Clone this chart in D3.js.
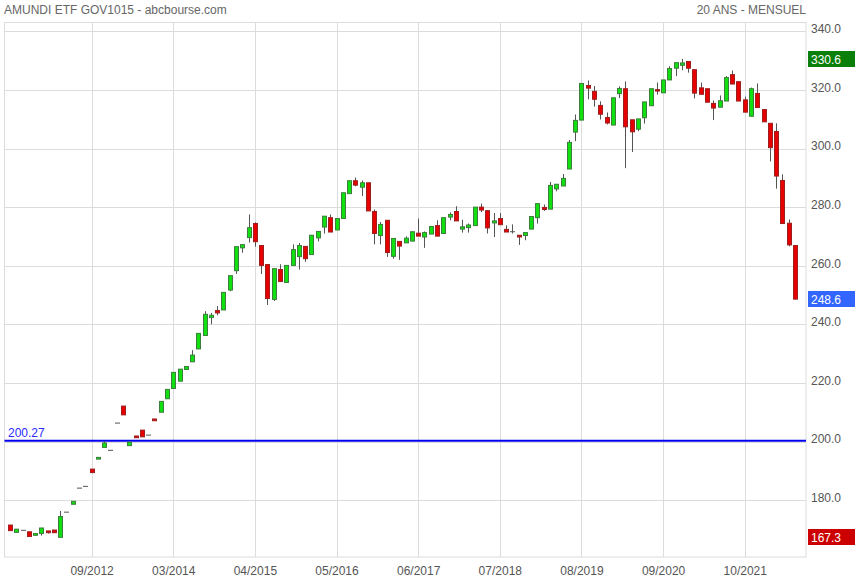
<!DOCTYPE html>
<html>
<head>
<meta charset="utf-8">
<script src="https://cdn.jsdelivr.net/npm/d3@7"></script>
<style>
html,body{margin:0;padding:0;background:#fff;}
svg{display:block;font-family:"Liberation Sans",Arial,sans-serif;}
</style>
</head>
<body>
<svg id="chart" width="855" height="580"></svg>
<script>
// ---- data (monthly candles, oldest first) ----
const opens = [171.5,169.0,169.7,169.2,168.0,168.6,169.5,169.8,167.3,175.9,
178.6,184.1,184.7,190.6,194.0,198.0,197.0,206.3,212.1,198.6,
201.9,203.9,202.2,207.7,210.0,214.6,218.1,220.6,224.6,227.2,
231.6,236.2,242.3,244.7,244.9,251.7,258.3,266.1,269.6,274.4,
266.9,260.4,248.5,258.7,254.3,260.1,263.1,266.6,263.8,269.5,
273.2,276.4,272.2,276.1,284.6,289.0,286.8,288.3,278.5,270.3,
275.5,263.2,268.3,267.8,268.4,271.1,269.8,270.8,273.7,271.0,
276.6,278.5,272.5,273.0,273.7,280.0,278.8,274.6,276.1,272.4,
271.6,270.4,270.3,272.5,276.4,279.9,279.3,286.2,287.2,293.0,
305.6,309.7,321.5,319.5,314.7,310.6,308.0,318.7,320.4,309.8,
306.6,310.5,314.6,320.1,319.0,323.4,327.4,328.4,329.7,326.9,
320.7,320.4,315.4,314.1,316.2,325.2,322.8,316.6,311.0,318.8,
313.3,308.6,305.8,289.1,274.5,266.9];
const highs = [171.5,170.1,169.7,169.2,168.6,170.5,169.5,169.8,176.3,175.9,
179.6,184.1,184.7,190.6,194.6,200.2,197.0,206.3,212.1,199.8,
201.9,203.9,202.2,207.7,213.7,217.8,223.6,224.7,225.6,231.2,
236.9,244.5,243.9,246.2,250.9,256.6,266.5,267.2,277.5,274.8,
266.9,260.4,259.0,260.5,260.1,267.3,267.8,266.6,270.4,271.7,
276.9,277.5,276.1,284.9,289.0,290.1,289.1,288.3,279.2,274.9,
275.5,269.3,268.3,270.0,271.6,276.1,271.7,273.4,275.5,276.4,
278.2,280.3,275.7,274.4,280.0,281.2,278.8,278.0,278.0,273.8,
274.1,270.4,271.3,276.8,281.2,280.9,288.6,287.8,291.3,302.9,
311.6,322.2,323.2,321.3,316.1,312.3,317.3,321.2,322.9,309.8,
310.1,315.9,320.4,322.5,323.4,328.1,329.3,330.6,329.7,326.9,
322.5,320.4,316.4,318.1,324.7,326.6,322.8,317.7,320.8,322.2,
313.3,308.6,308.6,291.2,275.8,266.9];
const lows = [169.6,169.0,169.7,167.6,168.0,167.9,168.6,168.9,167.3,175.9,
178.6,184.1,184.7,189.4,194.0,198.0,197.0,206.3,209.1,198.6,
201.3,201.6,202.2,207.1,210.0,214.6,218.1,220.6,224.6,227.2,
231.6,236.2,240.0,243.1,244.9,251.3,257.2,264.4,267.9,266.5,
257.2,246.6,248.0,254.6,254.3,260.1,258.7,261.3,263.8,268.3,
271.0,271.5,272.2,276.1,284.6,287.1,283.8,278.7,267.3,267.3,
263.0,262.4,262.0,267.8,268.4,270.1,266.1,270.8,270.1,271.0,
275.5,275.3,271.3,271.3,273.7,278.3,271.0,269.8,274.0,271.5,
271.0,267.1,268.7,272.5,274.4,278.7,279.3,285.4,287.2,293.0,
302.5,309.7,316.8,314.3,309.9,308.2,308.0,317.2,293.3,298.8,
305.9,308.5,314.6,318.4,319.0,323.4,324.7,326.7,325.9,317.1,
318.5,315.8,309.7,314.1,316.2,322.0,316.2,312.4,311.0,314.0,
309.1,295.6,286.3,274.4,266.6,248.6];
const closes = [169.6,170.1,169.7,167.6,168.6,170.5,168.9,168.9,174.4,175.9,
179.6,184.1,184.7,189.4,194.6,199.5,197.0,206.3,209.1,199.8,
201.3,201.6,202.2,207.1,213.7,217.8,223.6,224.7,225.6,229.5,
236.9,243.4,243.1,243.9,250.9,256.6,266.5,267.2,273.0,268.2,
260.1,248.8,259.0,254.6,260.1,265.5,266.9,262.4,270.4,271.7,
276.9,271.5,276.1,284.9,289.0,287.5,288.3,278.7,271.0,274.1,
264.5,269.3,266.7,269.4,271.6,270.1,271.3,273.4,270.1,276.4,
277.5,275.3,273.3,273.9,280.0,279.0,272.9,275.3,274.0,271.5,
271.6,269.8,271.3,276.8,281.2,279.2,287.4,287.8,289.8,302.1,
309.6,322.2,320.6,316.8,311.7,308.7,317.3,320.5,307.4,305.7,
310.1,315.9,320.4,319.6,323.4,327.3,329.3,329.2,327.4,318.9,
318.5,315.8,313.8,316.3,324.2,322.0,316.2,312.4,320.4,314.0,
309.1,300.3,290.6,274.4,267.1,248.6];

const xTickIndex  = [13,26,39,52,65,78,91,104,117];
const xTickLabels = ["09/2012","03/2014","04/2015","05/2016","06/2017","07/2018","08/2019","09/2020","10/2021"];
const yTicks = [180,200,220,240,260,280,300,320,340];
const refLevel = 200.27;
const title = "AMUNDI ETF GOV1015 - abcbourse.com";
const period = "20 ANS - MENSUEL";

// ---- drawing ----
const svg = d3.select("#chart");
const L = 4.5, R = 806, T = 22.5, B = 557;
const n = closes.length;
const x = d3.scaleBand().domain(d3.range(n)).range([6.82, 6.82 + 6.28 * n]).padding(0);
const cx = i => x(i) + x.bandwidth() / 2;
const y = d3.scaleLinear().domain([160.6, 343.0]).range([B, T]);

// frame
svg.append("rect").attr("x", L).attr("y", T).attr("width", R - L).attr("height", B - T)
  .attr("fill", "#fff").attr("stroke", "#dcdcdc").attr("stroke-width", 1);

// horizontal grid + y axis labels
const yAxis = d3.axisRight(y).tickValues(yTicks).tickFormat(d3.format(".1f")).tickSize(0).tickPadding(5);
const gy = svg.append("g").attr("transform", `translate(${R},-2.5)`).call(yAxis);
gy.select(".domain").remove();
gy.selectAll("text").attr("fill", "#555").style("font-size", "12px").style("font-family", "Liberation Sans, Arial, sans-serif");
svg.append("g").selectAll("line").data(yTicks).join("line")
  .attr("x1", L).attr("x2", R)
  .attr("y1", d => Math.round(y(d)) + 0.5).attr("y2", d => Math.round(y(d)) + 0.5)
  .attr("stroke", "#dcdcdc");

// vertical grid + x axis labels
svg.append("g").selectAll("line").data(xTickIndex).join("line")
  .attr("x1", d => Math.round(cx(d)) + 0.5).attr("x2", d => Math.round(cx(d)) + 0.5)
  .attr("y1", T).attr("y2", B).attr("stroke", "#dcdcdc");
const xAxis = d3.axisBottom(d3.scaleLinear().domain([0, n]).range([x(0), x(0) + 6.28 * n]))
  .tickValues(xTickIndex.map(i => i + 0.5))
  .tickFormat((d, k) => xTickLabels[k]).tickSize(0).tickPadding(9);
const gx = svg.append("g").attr("transform", `translate(0,${B})`).call(xAxis);
gx.select(".domain").remove();
gx.selectAll("text").attr("fill", "#555").style("font-size", "12px").style("font-family", "Liberation Sans, Arial, sans-serif");

// titles
svg.append("text").attr("x", 4).attr("y", 14).attr("fill", "#666").style("font-size", "12px").text(title);
svg.append("text").attr("x", R).attr("y", 14).attr("text-anchor", "end").attr("fill", "#666").style("font-size", "12px").text(period);

// reference line
svg.append("line").attr("x1", L).attr("x2", R).attr("y1", y(refLevel)).attr("y2", y(refLevel))
  .attr("stroke", "#0000ee").attr("stroke-width", 2);
svg.append("text").attr("x", 8).attr("y", y(refLevel) - 3.5).attr("fill", "#2b2bff").style("font-size", "12px")
  .text(refLevel.toFixed(2));

// candles
const idx = d3.range(n);
const gC = svg.append("g");
gC.selectAll("line.wick").data(idx.filter(i => highs[i] > lows[i])).join("line")
  .attr("class", "wick")
  .attr("x1", i => Math.round(cx(i)) + 0.5).attr("x2", i => Math.round(cx(i)) + 0.5)
  .attr("y1", i => y(highs[i])).attr("y2", i => y(lows[i]))
  .attr("stroke", "#555").attr("stroke-width", 1);
const bodyW = 4;
gC.selectAll("rect.body").data(idx.filter(i => Math.abs(opens[i] - closes[i]) >= 0.3)).join("rect")
  .attr("class", "body")
  .attr("x", i => Math.round(cx(i)) + 0.5 - bodyW / 2)
  .attr("width", bodyW)
  .attr("y", i => y(Math.max(opens[i], closes[i])))
  .attr("height", i => Math.max(1, y(Math.min(opens[i], closes[i])) - y(Math.max(opens[i], closes[i]))))
  .attr("fill", i => closes[i] >= opens[i] ? "#10e010" : "#e80000")
  .attr("stroke", i => closes[i] >= opens[i] ? "#3c7f3c" : "#9c2020")
  .attr("stroke-width", 1);
gC.selectAll("line.doji").data(idx.filter(i => Math.abs(opens[i] - closes[i]) < 0.3)).join("line")
  .attr("class", "doji")
  .attr("x1", i => Math.round(cx(i)) + 0.5 - 2.5).attr("x2", i => Math.round(cx(i)) + 0.5 + 2.5)
  .attr("y1", i => y(closes[i])).attr("y2", i => y(closes[i]))
  .attr("stroke", "#555").attr("stroke-width", 1);

// value badges
const maxH = d3.max(highs), minL = d3.min(lows), last = closes[n - 1];
const badges = [
  {v: maxH, c: "#0a800a"},
  {v: last, c: "#3366ff"},
  {v: minL, c: "#cc0000"}
];
const gb = svg.append("g").selectAll("g").data(badges).join("g")
  .attr("transform", d => `translate(808,${Math.round(y(d.v)) - 8})`);
gb.append("rect").attr("width", 47).attr("height", 16).attr("fill", d => d.c);
gb.append("text").attr("x", 3).attr("y", 12.5).attr("fill", "#fff").style("font-size", "12px")
  .text(d => d.v.toFixed(1));
</script>
</body>
</html>
